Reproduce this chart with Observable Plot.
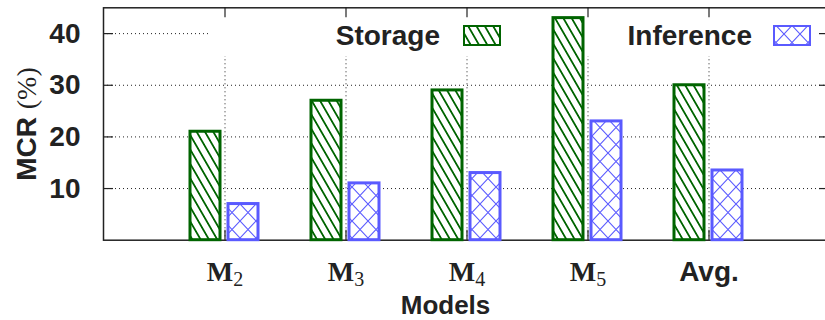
<!DOCTYPE html>
<html>
<head>
<meta charset="utf-8">
<script src="https://cdn.jsdelivr.net/npm/d3@7"></script>
<script src="https://cdn.jsdelivr.net/npm/@observablehq/plot@0.6"></script>
<style>
html, body { margin: 0; padding: 0; background: #fff; overflow: hidden; }
#chart { width: 825px; height: 320px; }
</style>
</head>
<body>
<div id="chart"></div>
<script>
// ---- data ----
const models = ["M2", "M3", "M4", "M5", "Avg."];
const storage = [21, 27, 29, 43, 30];
const inference = [7, 11, 13, 23, 13.5];
const yTicks = [10, 20, 30, 40];
const seriesNames = ["Storage", "Inference"];
const xLabel = "Models";
const yLabel = "MCR (%)";

// ---- styles ----
const GREEN = "#006400", BLUE = "#5a5aff", INK = "#222";
const SANS = "'Liberation Sans', Arial, Helvetica, sans-serif";
const SERIF = "'Liberation Serif', 'Times New Roman', serif";

const rows = models.map((m, i) => ({model: m, storage: storage[i], inference: inference[i]}));

const W = 825, H = 320, ML = 103, MR = -4, MT = 7.3, MB = 80.3;
const frameW = W - ML - MR, frameH = H - MT - MB;
const TICK = 10;

function patterns() {
  const g = d3.create("svg:g");
  const defs = g.append("defs");
  const ps = defs.append("pattern").attr("id", "hatchS").attr("patternUnits", "userSpaceOnUse")
    .attr("width", 7.2).attr("height", 10).attr("patternTransform", "rotate(-30)");
  ps.append("rect").attr("width", 7.2).attr("height", 10).attr("fill", "#fff");
  ps.append("line").attr("x1", 3.6).attr("y1", -1).attr("x2", 3.6).attr("y2", 11)
    .attr("stroke", GREEN).attr("stroke-width", 1.8);
  const pi = defs.append("pattern").attr("id", "hatchI").attr("patternUnits", "userSpaceOnUse")
    .attr("width", 16).attr("height", 17);
  pi.append("rect").attr("width", 16).attr("height", 17).attr("fill", "#fff");
  pi.append("path").attr("d", "M-1,-1.06L17,18.06M17,-1.06L-1,18.06")
    .attr("stroke", BLUE).attr("stroke-width", 1.1).attr("fill", "none");
  return g.node();
}

function legendBackground(index, scales, values, dims) {
  return d3.create("svg:rect")
    .attr("x", 210).attr("y", dims.marginTop + 1)
    .attr("width", dims.width - 210).attr("height", 56 - dims.marginTop - 1)
    .attr("fill", "#fff").node();
}

function legendItems(index, scales, values, dims) {
  const g = d3.create("svg:g")
    .attr("font-family", SANS).attr("font-weight", "bold").attr("font-size", 28).attr("fill", INK);
  const items = [
    {name: seriesNames[0], right: 440, sx: 463, pat: "hatchS", color: GREEN},
    {name: seriesNames[1], right: 752, sx: 773, pat: "hatchI", color: BLUE}
  ];
  for (const it of items) {
    g.append("text").attr("x", it.right).attr("y", 35).attr("dy", "0.35em")
      .attr("text-anchor", "end").text(it.name);
    g.append("rect").attr("x", it.sx + 1).attr("y", 26).attr("width", 36).attr("height", 19)
      .attr("fill", `url(#${it.pat})`).attr("stroke", it.color).attr("stroke-width", 2);
  }
  return g.node();
}

const grid = {stroke: "#222", strokeWidth: 1, strokeDasharray: "1,3"};

const svg = Plot.plot({
  width: W, height: H,
  marginLeft: ML, marginRight: MR, marginTop: MT, marginBottom: MB,
  style: {fontFamily: SANS, fontSize: "28px", fontWeight: "bold", color: INK, background: "#fff"},
  x: {type: "band", domain: models, paddingInner: 0, paddingOuter: 0.5, axis: null},
  y: {domain: [0, 45], axis: null},
  marks: [
    patterns,
    Plot.ruleY(yTicks, {y: d => d, ...grid}),
    Plot.ruleX(models, {x: d => d, ...grid}),
    legendBackground,
    Plot.frame({stroke: INK, strokeWidth: 1.5}),
    Plot.tickY(yTicks, {y: d => d, insetRight: frameW - TICK, stroke: INK, strokeWidth: 1.2}),
    Plot.tickY(yTicks, {y: d => d, insetLeft: frameW - TICK, stroke: INK, strokeWidth: 1.2}),
    Plot.tickX(models, {x: d => d, insetBottom: frameH - TICK, stroke: INK, strokeWidth: 1.2}),
    Plot.tickX(models, {x: d => d, insetTop: frameH - TICK, stroke: INK, strokeWidth: 1.2}),
    Plot.axisY(yTicks, {tickSize: 0, tickPadding: 23, label: null, fill: INK}),
    Plot.axisX({tickSize: 0, tickPadding: 21, label: null, fill: INK}),
    Plot.barY(rows, {x: "model", y: "storage", fill: "url(#hatchS)", stroke: GREEN, strokeWidth: 3, insetLeft: 26, insetRight: 65}),
    Plot.barY(rows, {x: "model", y: "inference", fill: "url(#hatchI)", stroke: BLUE, strokeWidth: 3, insetLeft: 64, insetRight: 27}),
    legendItems,
    Plot.text([yLabel], {frameAnchor: "left", dx: 35 - ML, rotate: -90, textAnchor: "middle", lineAnchor: "bottom", fill: INK}),
    Plot.text([xLabel], {frameAnchor: "bottom", dx: -21, dy: 74, lineAnchor: "bottom", fontSize: 26, fill: INK})
  ]
});

// typographic touches: subscripts for model names, serif "(%)"
d3.select(svg).selectAll("text").each(function () {
  const t = d3.select(this);
  if (t.selectAll("tspan").size() > 0) return;
  const s = t.text();
  const m = /^M(\d)$/.exec(s);
  if (m) {
    t.text(null);
    t.append("tspan").attr("font-family", SERIF).attr("font-weight", "bold").attr("font-size", 28).text("M");
    t.append("tspan").attr("font-family", SERIF).attr("font-weight", "normal").attr("font-size", 20).attr("dy", 5).text(m[1]);
  } else if (s === yLabel) {
    t.text(null);
    t.append("tspan").text("MCR ");
    t.append("tspan").attr("font-family", SERIF).attr("font-weight", "normal").text("(%)");
  }
});

document.getElementById("chart").appendChild(svg);
</script>
</body>
</html>
